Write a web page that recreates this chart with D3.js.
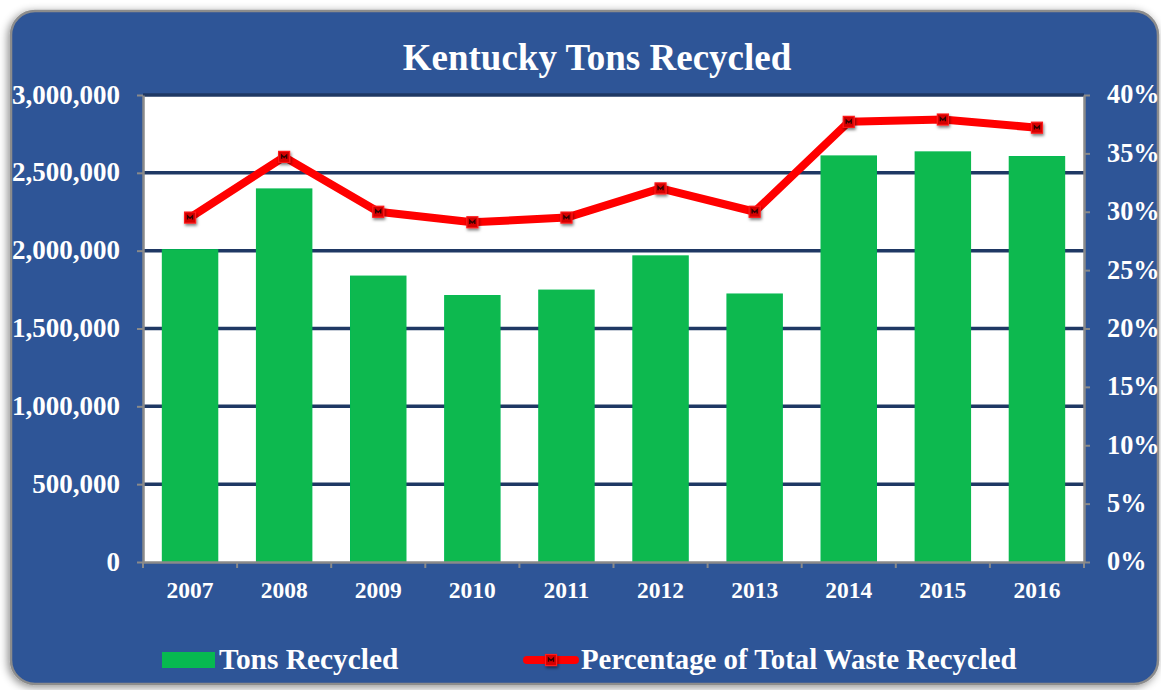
<!DOCTYPE html>
<html>
<head>
<meta charset="utf-8">
<script src="https://cdn.jsdelivr.net/npm/d3@7"></script>
<style>
  html, body { margin: 0; padding: 0; background: #ffffff; }
  svg { display: block; }
  text { font-family: "Liberation Serif", "Times New Roman", serif; font-weight: bold; fill: #ffffff; }
</style>
</head>
<body>
<svg id="chart" width="1161" height="690"></svg>
<script>
// Kentucky recycling, 2007-2016
const years = ["2007", "2008", "2009", "2010", "2011", "2012", "2013", "2014", "2015", "2016"];
const tonsRecycled = [2010000, 2400000, 1840000, 1715000, 1750000, 1970000, 1725000, 2612000, 2638000, 2608000];
const pctRecycled = [29.5, 34.7, 30.0, 29.1, 29.5, 32.0, 30.0, 37.7, 37.9, 37.2];
const tonTicks = [0, 500000, 1000000, 1500000, 2000000, 2500000, 3000000];
const pctTicks = [0, 5, 10, 15, 20, 25, 30, 35, 40];
const chartTitle = "Kentucky Tons Recycled";
const legendLabels = ["Tons Recycled", "Percentage of Total Waste Recycled"];

const svg = d3.select("#chart");
const plot = { left: 143, right: 1084, top: 95, bottom: 562 };

const defs = svg.append("defs");
const panelShadow = defs.append("filter").attr("id", "panelShadow")
  .attr("x", "-5%").attr("y", "-5%").attr("width", "110%").attr("height", "110%");
panelShadow.append("feDropShadow").attr("dx", -2).attr("dy", 2)
  .attr("stdDeviation", 4).attr("flood-color", "#000").attr("flood-opacity", 0.45);
const markShadow = defs.append("filter").attr("id", "markShadow")
  .attr("x", "-60%").attr("y", "-60%").attr("width", "220%").attr("height", "220%");
markShadow.append("feDropShadow").attr("dx", 1).attr("dy", 2)
  .attr("stdDeviation", 1.6).attr("flood-color", "#000").attr("flood-opacity", 0.5);
const barSoft = defs.append("filter").attr("id", "barSoft")
  .attr("x", "-10%").attr("y", "-5%").attr("width", "120%").attr("height", "110%");
barSoft.append("feGaussianBlur").attr("stdDeviation", 0.6);

// Outer rounded panel
svg.append("rect")
  .attr("x", 11).attr("y", 11).attr("width", 1147).attr("height", 673)
  .attr("rx", 24).attr("ry", 24)
  .attr("fill", "#2f5597").attr("stroke", "#8c8c8c").attr("stroke-width", 2.5)
  .attr("filter", "url(#panelShadow)");

// Plot background
svg.append("rect")
  .attr("x", plot.left).attr("y", plot.top)
  .attr("width", plot.right - plot.left).attr("height", plot.bottom - plot.top)
  .attr("fill", "#ffffff");

// Scales
const xCat = d3.scaleBand().domain(years).range([plot.left, plot.right]).padding(0);
const xBar = d3.scaleBand().domain(years).range([plot.left, plot.right])
  .paddingInner(0.4).paddingOuter(0.2);
const yTons = d3.scaleLinear().domain([0, 3000000]).range([plot.bottom, plot.top]);
const yPct = d3.scaleLinear().domain([0, 40]).range([plot.bottom, plot.top]);

// Horizontal gridlines
svg.append("g").selectAll("line")
  .data(tonTicks.filter(d => d > 0))
  .join("line")
  .attr("x1", plot.left).attr("x2", plot.right)
  .attr("y1", d => yTons(d)).attr("y2", d => yTons(d))
  .attr("stroke", "#1f3864").attr("stroke-width", 3.5);

// Bars
svg.append("g").selectAll("rect")
  .data(years.map((y, i) => ({ year: y, value: tonsRecycled[i] })))
  .join("rect")
  .attr("x", d => xBar(d.year))
  .attr("width", xBar.bandwidth())
  .attr("y", d => yTons(d.value))
  .attr("height", d => yTons(0) - yTons(d.value))
  .attr("fill", "#07b950")
  .attr("filter", "url(#barSoft)");

// Axes
const axisColor = "#8a8a8a";
const leftAxis = svg.append("g")
  .attr("transform", `translate(${plot.left},0)`)
  .call(d3.axisLeft(yTons).tickValues(tonTicks).tickFormat(d3.format(",")).tickSize(6).tickSizeOuter(0).tickPadding(17));
const rightAxis = svg.append("g")
  .attr("transform", `translate(${plot.right},0)`)
  .call(d3.axisRight(yPct).tickValues(pctTicks).tickFormat(d => d + "%").tickSize(6).tickSizeOuter(0).tickPadding(17));
const bottomAxis = svg.append("g")
  .attr("transform", `translate(0,${plot.bottom})`)
  .call(d3.axisBottom(xCat).tickSize(0).tickSizeOuter(0).tickPadding(19));

// Category boundary ticks on the x axis
svg.append("g").selectAll("line")
  .data(years.map(y => xCat(y)).concat([plot.right]))
  .join("line")
  .attr("x1", d => d).attr("x2", d => d)
  .attr("y1", plot.bottom).attr("y2", plot.bottom + 6)
  .attr("stroke", axisColor).attr("stroke-width", 2);

[leftAxis, rightAxis, bottomAxis].forEach(g => {
  g.select(".domain").attr("stroke", axisColor).attr("stroke-width", 2.5);
  g.selectAll(".tick line").attr("stroke", axisColor).attr("stroke-width", 2);
  g.selectAll(".tick text").attr("fill", "#ffffff")
    .style("font-family", '"Liberation Serif", "Times New Roman", serif')
    .style("font-weight", "bold");
});
leftAxis.selectAll(".tick text").style("font-size", "27px").attr("dy", "0.3em");
rightAxis.selectAll(".tick text").style("font-size", "26.3px").attr("dy", "0.3em");
bottomAxis.selectAll(".tick text").style("font-size", "23.5px");

// Percentage line
const line = d3.line()
  .x((d, i) => xCat(years[i]) + xCat.bandwidth() / 2)
  .y(d => yPct(d));
svg.append("path")
  .datum(pctRecycled)
  .attr("d", line)
  .attr("fill", "none")
  .attr("stroke", "#ff0000")
  .attr("stroke-width", 8)
  .attr("stroke-linejoin", "round");

function drawMarker(g, cx, cy) {
  const m = g.append("g").attr("transform", `translate(${cx},${cy})`).attr("filter", "url(#markShadow)");
  m.append("rect").attr("x", -5.5).attr("y", -5.5).attr("width", 11).attr("height", 11)
    .attr("fill", "#d40000").attr("stroke", "#ff1a1a").attr("stroke-width", 1.2);
  m.append("path").attr("d", "M-2.5,1.8 L-2.5,-1.8 L0,0.6 L2.5,-1.8 L2.5,1.8")
    .attr("fill", "none").attr("stroke", "#300000").attr("stroke-width", 1.4);
}
const markers = svg.append("g");
pctRecycled.forEach((v, i) => drawMarker(markers, xCat(years[i]) + xCat.bandwidth() / 2, yPct(v)));

// Title
svg.append("text")
  .attr("x", 597).attr("y", 70)
  .attr("text-anchor", "middle")
  .style("font-size", "37px")
  .text(chartTitle);

// Legend
const legend = svg.append("g");
legend.append("rect")
  .attr("x", 162).attr("y", 652).attr("width", 53).attr("height", 16)
  .attr("fill", "#07b950");
legend.append("text")
  .attr("x", 219).attr("y", 669)
  .style("font-size", "29.4px")
  .text(legendLabels[0]);
legend.append("line")
  .attr("x1", 527).attr("x2", 575).attr("y1", 660).attr("y2", 660)
  .attr("stroke", "#ff0000").attr("stroke-width", 8).attr("stroke-linecap", "round");
drawMarker(legend, 551, 660);
legend.append("text")
  .attr("x", 581).attr("y", 669)
  .style("font-size", "28.8px")
  .text(legendLabels[1]);
</script>
</body>
</html>
